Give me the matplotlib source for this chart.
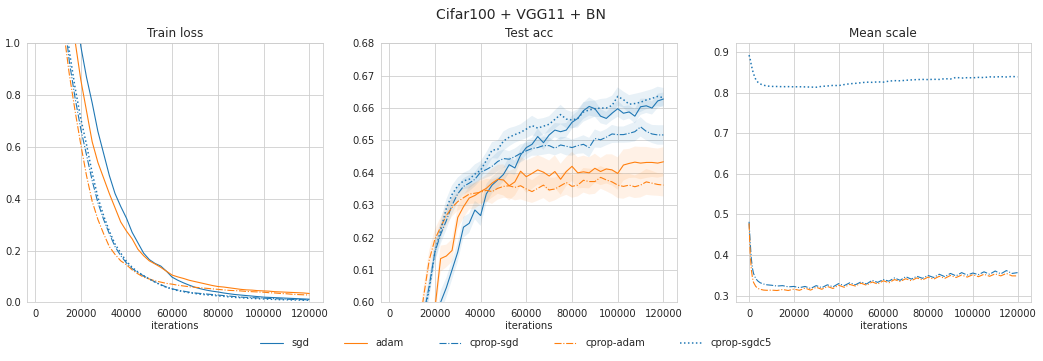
import numpy as np
import matplotlib
matplotlib.use('Agg')
import matplotlib.pyplot as plt
import seaborn as sns

sns.set_style('whitegrid')

BLUE = '#1f77b4'
ORANGE = '#ff7f0e'

# iterations for train loss / test acc
iters = np.arange(2500, 120001, 2500)

loss_sgd = [4.2, 3.6, 3.0, 2.4, 1.9, 1.5, 1.2, 0.99, 0.87, 0.77, 0.66, 0.575, 0.49, 0.42, 0.37, 0.325,
            0.27, 0.23, 0.19, 0.165, 0.15, 0.14, 0.12, 0.097, 0.085, 0.075, 0.066, 0.058, 0.052, 0.047,
            0.043, 0.040, 0.036, 0.033, 0.030, 0.028, 0.026, 0.024, 0.022, 0.020, 0.019, 0.018, 0.017,
            0.016, 0.015, 0.014, 0.013, 0.012]
loss_adam = [4.0, 3.3, 2.7, 2.1, 1.65, 1.3, 1.01, 0.86, 0.74, 0.62, 0.54, 0.48, 0.42, 0.365, 0.31, 0.275,
             0.245, 0.205, 0.18, 0.16, 0.148, 0.135, 0.12, 0.105, 0.098, 0.092, 0.085, 0.08, 0.075, 0.07,
             0.065, 0.061, 0.059, 0.056, 0.053, 0.05, 0.048, 0.047, 0.045, 0.044, 0.043, 0.041, 0.04,
             0.039, 0.038, 0.037, 0.036, 0.034]
loss_cprop_sgd = [3.3, 2.6, 2.0, 1.5, 1.12, 0.93, 0.79, 0.67, 0.57, 0.47, 0.385, 0.32, 0.265, 0.215, 0.18,
                  0.152, 0.13, 0.115, 0.102, 0.09, 0.079, 0.068, 0.059, 0.052, 0.047, 0.043, 0.039, 0.036,
                  0.034, 0.032, 0.030, 0.028, 0.026, 0.024, 0.022, 0.020, 0.019, 0.018, 0.017, 0.016,
                  0.015, 0.014, 0.013, 0.012, 0.011, 0.011, 0.010, 0.010]
loss_cprop_adam = [3.2, 2.5, 1.9, 1.4, 1.05, 0.88, 0.74, 0.61, 0.49, 0.39, 0.32, 0.265, 0.215, 0.185, 0.16,
                   0.145, 0.125, 0.11, 0.097, 0.09, 0.083, 0.078, 0.073, 0.07, 0.066, 0.063, 0.06, 0.058,
                   0.056, 0.054, 0.052, 0.05, 0.048, 0.046, 0.045, 0.044, 0.042, 0.041, 0.04, 0.039,
                   0.037, 0.036, 0.034, 0.033, 0.031, 0.03, 0.029, 0.028]
loss_cprop_sgdc5 = [3.4, 2.7, 2.1, 1.6, 1.2, 0.97, 0.83, 0.71, 0.61, 0.50, 0.405, 0.335, 0.275, 0.225, 0.19,
                    0.158, 0.135, 0.117, 0.103, 0.09, 0.078, 0.067, 0.058, 0.051, 0.045, 0.041, 0.037,
                    0.034, 0.031, 0.029, 0.027, 0.025, 0.023, 0.021, 0.019, 0.018, 0.016, 0.015, 0.014,
                    0.013, 0.012, 0.011, 0.010, 0.010, 0.009, 0.009, 0.008, 0.008]

acc_sgd = [0.30, 0.40, 0.46, 0.50, 0.53, 0.555, 0.573, 0.588, 0.600, 0.6045, 0.610, 0.6155, 0.6232, 0.6244,
           0.6285, 0.6268, 0.6335, 0.6362, 0.6378, 0.6395, 0.6425, 0.6415, 0.6455, 0.6478, 0.6488, 0.6512,
           0.6493, 0.6517, 0.6532, 0.6527, 0.6532, 0.6556, 0.6568, 0.6592, 0.6605, 0.6598, 0.6575, 0.6568,
           0.6584, 0.6598, 0.6584, 0.6588, 0.6575, 0.6604, 0.6607, 0.6600, 0.6622, 0.6628]
acc_adam = [0.35, 0.44, 0.49, 0.525, 0.55, 0.57, 0.587, 0.598, 0.6135, 0.6143, 0.6160, 0.6262, 0.6295,
            0.6322, 0.6330, 0.6342, 0.6352, 0.6368, 0.6380, 0.6378, 0.6360, 0.6372, 0.6405, 0.6388, 0.6398,
            0.6409, 0.6402, 0.6390, 0.6404, 0.6380, 0.6404, 0.6420, 0.6400, 0.6403, 0.6400, 0.6414, 0.6404,
            0.6412, 0.6409, 0.6398, 0.6424, 0.6429, 0.6433, 0.6430, 0.6432, 0.6432, 0.6430, 0.6434]
acc_cprop_sgd = [0.42, 0.50, 0.54, 0.565, 0.583, 0.596, 0.605, 0.6155, 0.6210, 0.6252, 0.6300, 0.6335,
                 0.6358, 0.6368, 0.6380, 0.6402, 0.6410, 0.6420, 0.6435, 0.6444, 0.6442, 0.6450, 0.6460,
                 0.6468, 0.6475, 0.6478, 0.6484, 0.6484, 0.6476, 0.6486, 0.6482, 0.6478, 0.6484, 0.6488,
                 0.6478, 0.6506, 0.6502, 0.6510, 0.6520, 0.6518, 0.6518, 0.6522, 0.6527, 0.6542, 0.6528,
                 0.6520, 0.6517, 0.6517]
acc_cprop_adam = [0.44, 0.51, 0.55, 0.572, 0.588, 0.6015, 0.613, 0.6195, 0.6232, 0.6268, 0.6293, 0.6311,
                  0.6323, 0.6334, 0.6337, 0.6340, 0.6346, 0.6342, 0.6352, 0.6358, 0.6360, 0.6355, 0.6360,
                  0.6350, 0.6342, 0.6352, 0.6362, 0.6347, 0.6350, 0.6360, 0.6370, 0.6358, 0.6362, 0.6377,
                  0.6373, 0.6373, 0.6386, 0.6378, 0.6372, 0.6362, 0.6358, 0.6362, 0.6357, 0.6362, 0.6372,
                  0.6368, 0.6364, 0.6362]
acc_cprop_sgdc5 = [0.41, 0.49, 0.535, 0.562, 0.581, 0.595, 0.604, 0.6155, 0.6222, 0.6290, 0.6333, 0.6360,
                   0.6375, 0.6380, 0.6396, 0.6408, 0.6438, 0.6470, 0.6472, 0.6498, 0.6510, 0.6518, 0.6525,
                   0.6535, 0.6546, 0.6538, 0.6544, 0.6550, 0.6565, 0.6580, 0.6566, 0.6563, 0.6568, 0.6588,
                   0.6594, 0.6598, 0.6600, 0.6600, 0.6608, 0.6636, 0.6626, 0.6612, 0.6614, 0.6618, 0.6625,
                   0.6630, 0.6636, 0.6632]

# half width of the shaded bands on test acc
acc_sgd_sd = [0.004, 0.004, 0.004, 0.004, 0.004, 0.004, 0.004, 0.0035, 0.0035, 0.003, 0.003, 0.003, 0.0032,
              0.003, 0.0028, 0.0032, 0.003, 0.0025, 0.0025, 0.0022, 0.0025, 0.0022, 0.002, 0.0022, 0.002,
              0.0025, 0.0022, 0.002, 0.0022, 0.0025, 0.0022, 0.002, 0.0022, 0.0025, 0.0028, 0.0025, 0.0022,
              0.002, 0.0022, 0.0025, 0.0022, 0.002, 0.0022, 0.0025, 0.0022, 0.002, 0.0022, 0.002]
acc_adam_sd = [0.004, 0.004, 0.004, 0.004, 0.004, 0.004, 0.004, 0.004, 0.004, 0.0035, 0.0035, 0.0035,
               0.0035, 0.0035, 0.004, 0.004, 0.0042, 0.0045, 0.0045, 0.0048, 0.0045, 0.0042, 0.0045, 0.005,
               0.0048, 0.0045, 0.0045, 0.0048, 0.005, 0.0048, 0.0045, 0.0045, 0.0048, 0.005, 0.0048, 0.0045,
               0.0042, 0.0045, 0.0048, 0.005, 0.0048, 0.0045, 0.0048, 0.005, 0.0048, 0.0045, 0.0045, 0.0045]
acc_cprop_sgd_sd = [0.003, 0.003, 0.003, 0.003, 0.003, 0.003, 0.003, 0.003, 0.003, 0.0028, 0.0028, 0.0025,
                    0.0025, 0.0025, 0.0022, 0.0025, 0.0025, 0.0028, 0.003, 0.0028, 0.0025, 0.0025, 0.0028,
                    0.0025, 0.0022, 0.0025, 0.0028, 0.0025, 0.0022, 0.0025, 0.0028, 0.0025, 0.0025, 0.0028,
                    0.003, 0.0028, 0.0025, 0.0025, 0.0028, 0.0025, 0.0025, 0.0028, 0.003, 0.003, 0.0028,
                    0.0028, 0.003, 0.003]
acc_cprop_adam_sd = [0.003, 0.003, 0.003, 0.003, 0.003, 0.003, 0.003, 0.003, 0.003, 0.003, 0.0028, 0.0028,
                     0.003, 0.003, 0.0032, 0.0035, 0.0035, 0.0038, 0.0035, 0.0035, 0.0038, 0.004, 0.0042,
                     0.0038, 0.0035, 0.0038, 0.004, 0.0038, 0.0035, 0.0035, 0.0038, 0.0035, 0.0035, 0.0038,
                     0.004, 0.0038, 0.0035, 0.0035, 0.0038, 0.004, 0.0038, 0.0035, 0.0035, 0.0038, 0.004,
                     0.0038, 0.0035, 0.0035]
acc_cprop_sgdc5_sd = [0.003, 0.003, 0.003, 0.003, 0.003, 0.003, 0.003, 0.003, 0.003, 0.0028, 0.0028,
                      0.0025, 0.0025, 0.0028, 0.003, 0.0028, 0.0025, 0.0025, 0.0028, 0.003, 0.0028, 0.0025,
                      0.0025, 0.0028, 0.003, 0.0028, 0.0025, 0.0025, 0.0028, 0.003, 0.0028, 0.0025, 0.0028,
                      0.003, 0.0028, 0.0025, 0.0028, 0.003, 0.003, 0.0028, 0.0025, 0.0028, 0.003, 0.003,
                      0.0028, 0.0028, 0.003, 0.003]

# mean scale (only the cprop runs)
ms_iters = [0, 500, 1000, 1500, 2000, 3000, 4000, 5000, 6500, 8000, 10000] + list(range(12500, 120001, 2500))
ms_cprop_sgdc5 = [0.892, 0.882, 0.868, 0.856, 0.846, 0.832, 0.825, 0.821, 0.818, 0.816, 0.815,
                  0.8148, 0.8143, 0.8145, 0.8140, 0.8142, 0.8138, 0.8134, 0.8130, 0.8152, 0.8160, 0.8175,
                  0.8170, 0.8195, 0.8215, 0.8225, 0.8240, 0.8255, 0.8250, 0.8262, 0.8255, 0.8280, 0.8292,
                  0.8288, 0.8300, 0.8310, 0.8318, 0.8322, 0.8318, 0.8325, 0.8322, 0.8340, 0.8332, 0.8372,
                  0.8355, 0.8365, 0.8362, 0.8372, 0.8368, 0.8385, 0.8382, 0.8390, 0.8382, 0.8395, 0.8385]
ms_cprop_sgd = [0.482, 0.432, 0.392, 0.368, 0.355, 0.342, 0.336, 0.332, 0.329, 0.327, 0.326,
                0.324, 0.325, 0.322, 0.323, 0.320, 0.323, 0.318, 0.325, 0.320, 0.327, 0.322, 0.330,
                0.325, 0.332, 0.327, 0.334, 0.329, 0.338, 0.333, 0.340, 0.336, 0.344, 0.338, 0.347,
                0.341, 0.348, 0.343, 0.350, 0.345, 0.353, 0.347, 0.355, 0.349, 0.357, 0.351, 0.356,
                0.352, 0.359, 0.353, 0.361, 0.354, 0.362, 0.355, 0.357]
ms_cprop_adam = [0.478, 0.405, 0.365, 0.345, 0.333, 0.323, 0.318, 0.316, 0.314, 0.3135, 0.314,
                 0.3130, 0.3155, 0.3130, 0.3165, 0.3135, 0.319, 0.314, 0.321, 0.316, 0.323, 0.318, 0.326,
                 0.321, 0.328, 0.324, 0.331, 0.326, 0.334, 0.329, 0.337, 0.332, 0.340, 0.335, 0.342,
                 0.337, 0.344, 0.339, 0.346, 0.341, 0.348, 0.343, 0.350, 0.345, 0.351, 0.346, 0.352,
                 0.347, 0.353, 0.348, 0.354, 0.349, 0.355, 0.349, 0.349]

fig, axes = plt.subplots(1, 3, figsize=(1043 / 72, 361 / 72), dpi=72)
fig.subplots_adjust(left=0.0262, right=0.9885, bottom=0.1626, top=0.880, wspace=0.199)

styles = {
    'sgd': (BLUE, '-', 1.1),
    'adam': (ORANGE, '-', 1.1),
    'cprop-sgd': (BLUE, '-.', 1.1),
    'cprop-adam': (ORANGE, '-.', 1.1),
    'cprop-sgdc5': (BLUE, ':', 1.5),
}

ax = axes[0]
for name, vals in [('sgd', loss_sgd), ('adam', loss_adam), ('cprop-sgd', loss_cprop_sgd),
                   ('cprop-adam', loss_cprop_adam), ('cprop-sgdc5', loss_cprop_sgdc5)]:
    c, ls, lw = styles[name]
    ax.plot(iters, vals, color=c, ls=ls, lw=lw, label=name)
ax.set_ylim(0, 1.0)
ax.set_title('Train loss', fontsize=12)

ax = axes[1]
for name, vals, sd in [('sgd', acc_sgd, acc_sgd_sd), ('adam', acc_adam, acc_adam_sd),
                       ('cprop-sgd', acc_cprop_sgd, acc_cprop_sgd_sd),
                       ('cprop-adam', acc_cprop_adam, acc_cprop_adam_sd),
                       ('cprop-sgdc5', acc_cprop_sgdc5, acc_cprop_sgdc5_sd)]:
    c, ls, lw = styles[name]
    v = np.array(vals)
    s = np.array(sd)
    ax.fill_between(iters, v - s, v + s, color=c, alpha=0.1, lw=0)
    ax.plot(iters, v, color=c, ls=ls, lw=lw, label=name)
ax.set_ylim(0.60, 0.68)
ax.set_title('Test acc', fontsize=12)

ax = axes[2]
for name, vals in [('cprop-sgd', ms_cprop_sgd), ('cprop-adam', ms_cprop_adam),
                   ('cprop-sgdc5', ms_cprop_sgdc5)]:
    c, ls, lw = styles[name]
    ax.plot(ms_iters, vals, color=c, ls=ls, lw=lw, label=name)
ax.set_ylim(0.284, 0.921)
ax.set_title('Mean scale', fontsize=12)

for ax in axes:
    ax.set_xticks([0, 20000, 40000, 60000, 80000, 100000, 120000])
    ax.tick_params(labelsize=10, pad=3)
    for sp in ax.spines.values():
        sp.set_color('.8')
    ax.set_xlabel('iterations', fontsize=10, labelpad=2)

handles, labels = axes[0].get_legend_handles_labels()
fig.legend(handles, labels, loc='lower center', ncol=5, frameon=False, fontsize=10,
           bbox_to_anchor=(0.495, 0.01), columnspacing=3.5, handlelength=2.3)
fig.suptitle('Cifar100 + VGG11 + BN', fontsize=14, y=0.978)

plt.savefig('out.png', dpi=72)
